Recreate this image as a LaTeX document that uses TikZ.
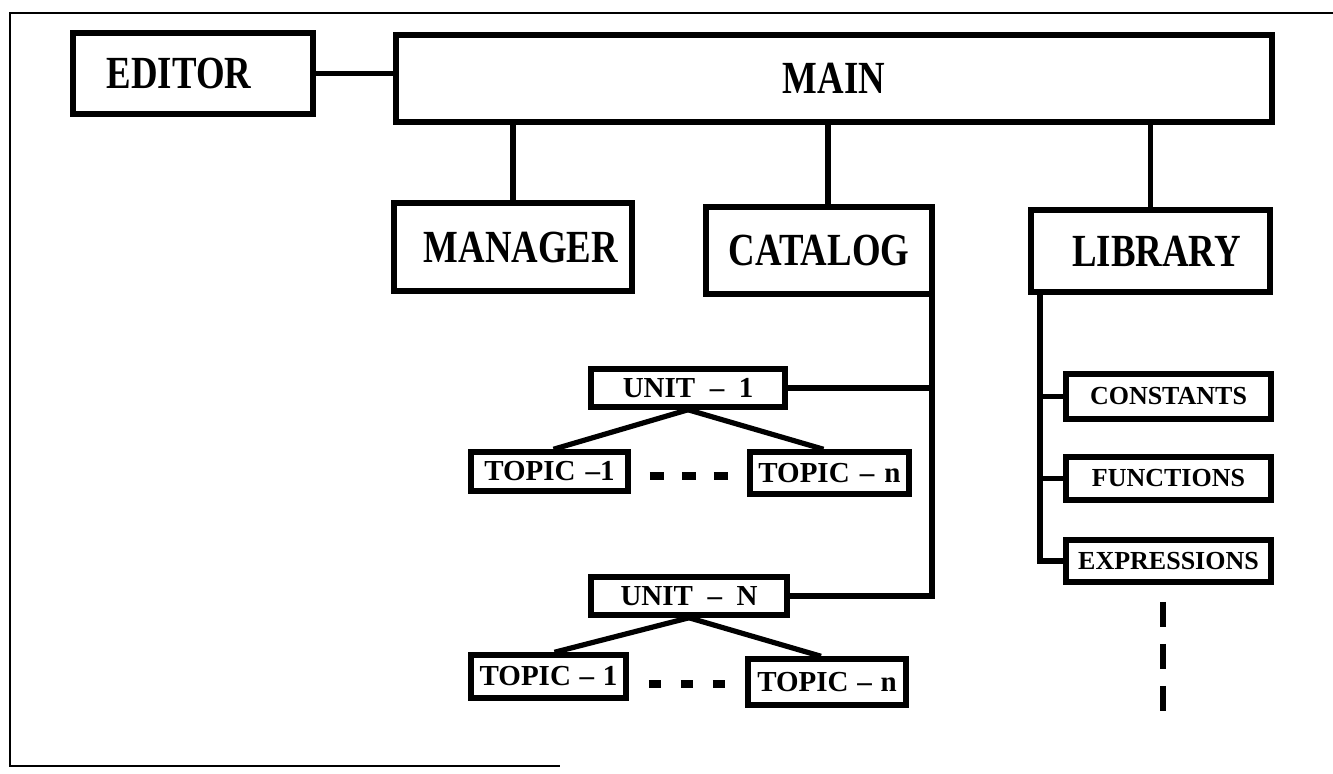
\documentclass[tikz,border=0pt]{standalone}
\usepackage{fontspec}
\setmainfont{Liberation Serif}
\newfontfamily\bigf[FakeStretch=0.8]{Liberation Serif Bold}
\newfontfamily\smallf{Liberation Serif Bold}
\usetikzlibrary{calc}
\begin{document}
\begin{tikzpicture}[x=0.5pt,y=-0.5pt,
  bigbox/.style={draw,line width=3pt,inner sep=0pt,font=\bigf\fontsize{23}{25}\selectfont},
  smallbox/.style={draw,line width=2.75pt,inner sep=0pt,font=\smallf\fontsize{14.5}{16}\selectfont},
  libbox/.style={smallbox,font=\smallf\fontsize{13}{15}\selectfont},
  link/.style={line width=2.6pt},
  frameline/.style={line width=1.3pt}]
\useasboundingbox (0,0) rectangle (1333,773);
% frame
\coordinate (ftl) at (10,13);
\coordinate (ftr) at (1333,13);
\coordinate (fbl) at (10,766);
\coordinate (fbr) at (560,766);
\draw[frameline] (ftr) -- (ftl) -- (fbl) -- (fbr);
% top level
\node[bigbox,minimum width=120pt,minimum height=40.5pt] (editor) at (193,73.5) {\hspace{-14pt}EDITOR};
\node[bigbox,minimum width=438pt,minimum height=43.5pt] (main) at (834,78.5) {MAIN};
\node[bigbox,minimum width=119pt,minimum height=44pt] (manager) at (513,247) {\hspace{8pt}MANAGER};
\node[bigbox,minimum width=113pt,minimum height=43.5pt] (catalog) at (819,250.5) {CATALOG};
\node[bigbox,minimum width=119.5pt,minimum height=41pt] (library) at (1150.5,251) {\hspace{6pt}LIBRARY};
\draw[link] (editor.east) -- (main.west |- editor.east);
\draw[link] (manager.north) -- (manager.north |- main.south);
\draw[link] ([xshift=4.5pt]catalog.north) -- ([xshift=4.5pt]catalog.north |- main.south);
\draw[link] (library.north) -- (library.north |- main.south);
% catalog units
\node[smallbox,minimum width=97pt,minimum height=19pt] (unitA) at (688,388) {UNIT\hspace{0.5em}–\hspace{0.5em}1};
\node[smallbox,minimum width=78.5pt,minimum height=19.5pt] (topA1) at (549.5,471.5) {TOPIC\hspace{0.35em}–1};
\node[smallbox,minimum width=79.5pt,minimum height=21pt] (topAn) at (829.5,473) {TOPIC\hspace{0.35em}–\hspace{0.35em}n};
\node[smallbox,minimum width=98pt,minimum height=19pt] (unitB) at (689,596) {UNIT\hspace{0.5em}–\hspace{0.5em}N};
\node[smallbox,minimum width=77.5pt,minimum height=21.5pt] (topB1) at (548.5,676.5) {TOPIC\hspace{0.3em}–\hspace{0.3em}1};
\node[smallbox,minimum width=79pt,minimum height=23pt] (topBn) at (827,682) {TOPIC\hspace{0.3em}–\hspace{0.3em}n};
\coordinate (catline) at ([xshift=-1.5pt]catalog.south east);
\draw[link] (catline) -- (catline |- unitB.east) -- (unitB.east);
\draw[link] (unitA.east) -- (unitA.east -| catline);
\draw[link] (unitA.south) -- ([xshift=2pt]topA1.north);
\draw[link] (unitA.south) -- ([xshift=-3pt]topAn.north);
\draw[link] (unitB.south) -- ([xshift=3pt]topB1.north);
\draw[link] (unitB.south) -- ([xshift=-3pt]topBn.north);
\draw[line width=4pt,dash pattern=on 0pt off 9.5pt on 7pt off 9pt on 7pt off 9pt on 7pt off 20pt]
  ([yshift=-2pt]topA1.east) -- ([yshift=-2pt]topA1.east -| topAn.west);
\draw[line width=4pt,dash pattern=on 0pt off 10pt on 6pt off 10pt on 6pt off 10pt on 6pt off 20pt]
  ([yshift=-3.5pt]topB1.east) -- ([yshift=-3.5pt]topB1.east -| topBn.west);
% library items
\node[libbox,minimum width=102.5pt,minimum height=22.5pt] (const) at (1168.5,396.5) {CONSTANTS};
\node[libbox,minimum width=102.5pt,minimum height=21.5pt] (func) at (1168.5,478.5) {FUNCTIONS};
\node[libbox,minimum width=102.5pt,minimum height=21pt] (expr) at (1168.5,561) {EXPRESSIONS};
\coordinate (libline) at ([xshift=6pt]library.south west);
\draw[link] (libline) -- (libline |- expr.west) -- (expr.west);
\draw[link] (const.west) -- (const.west -| libline);
\draw[link] (func.west) -- (func.west -| libline);
\coordinate (libend) at (1163,711);
\draw[line width=2.6pt,dash pattern=on 0pt off 8.5pt on 12.5pt off 8.5pt on 12.5pt off 8.5pt on 12.5pt off 10pt]
  (expr.south -| libend) -- (libend);
\end{tikzpicture}
\end{document}
